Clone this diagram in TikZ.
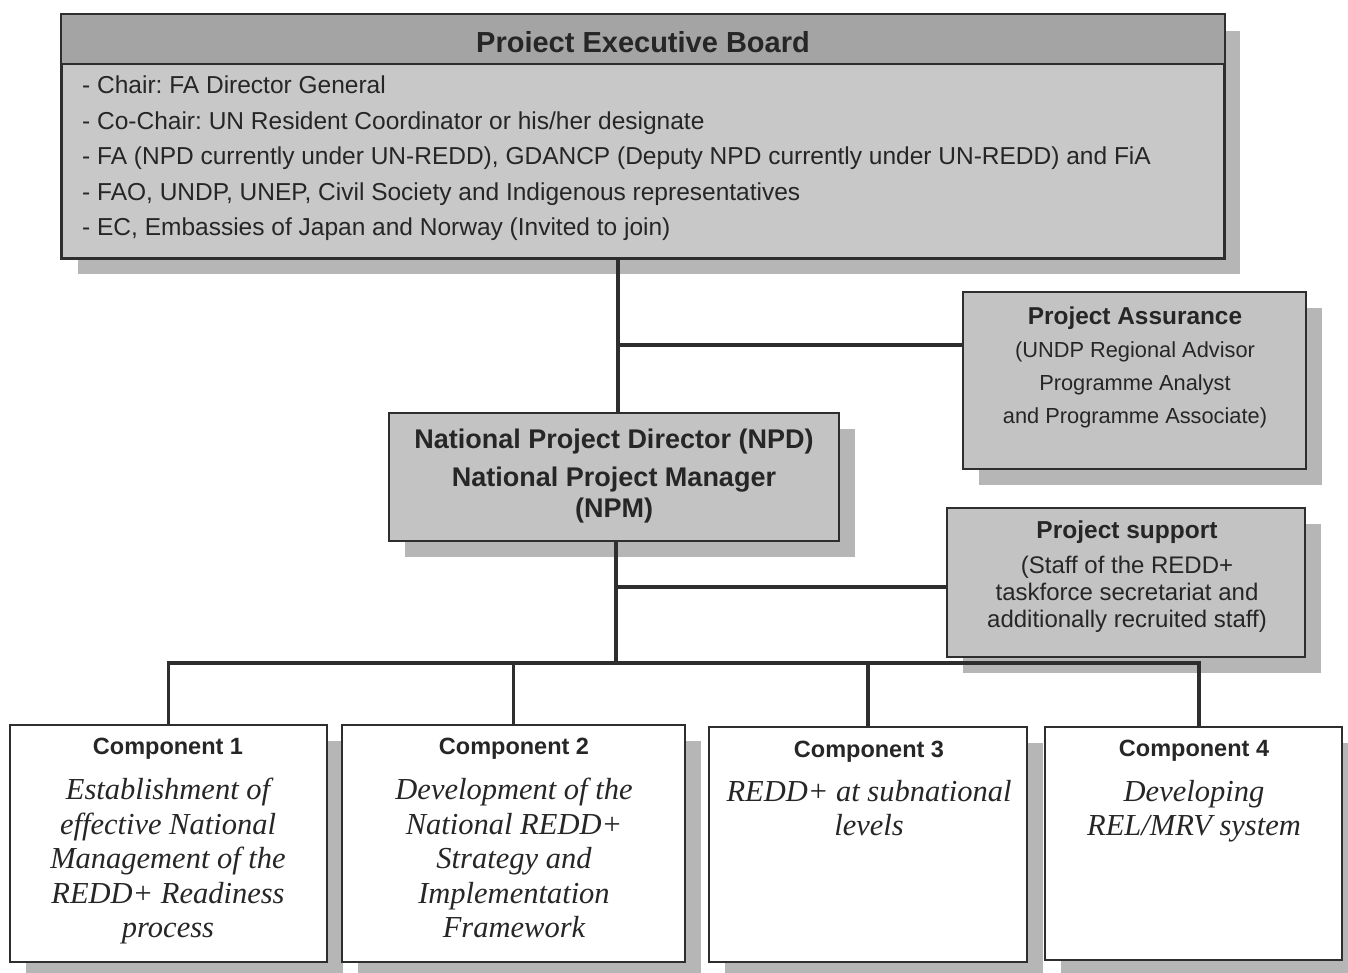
\documentclass[tikz,border=0pt]{standalone}
\usepackage{fontspec}
\setmainfont{Liberation Sans}
\newfontfamily\compserif{Liberation Serif}
\usetikzlibrary{shadows}
\frenchspacing
\definecolor{linecol}{HTML}{2E2E2E}
\definecolor{textcol}{HTML}{262626}
\definecolor{headergray}{HTML}{A4A4A4}
\definecolor{boardgray}{HTML}{C8C8C8}
\definecolor{boxgray}{HTML}{C3C3C3}
\definecolor{shadowgray}{HTML}{B6B6B6}
\tikzset{
  box/.style={draw=linecol, line width=1.8pt, inner sep=0pt,
    general shadow={fill=shadowgray, shadow xshift=16pt, shadow yshift=-16pt}},
  conn/.style={draw=linecol, line width=3.6pt},
  sanstext/.style={text=textcol, inner sep=0pt, align=center},
  comptitle/.style={text=textcol, inner sep=0pt, font=\bfseries\fontsize{23.5}{27}\selectfont},
  compbody/.style={text=textcol, inner sep=0pt, align=center, anchor=north,
    font=\compserif\itshape\fontsize{30.5}{34.5}\selectfont},
}
\begin{document}
\begin{tikzpicture}[x=1pt,y=-1pt]
\useasboundingbox (0,0) rectangle (1348,972);
\clip (0,0) rectangle (1348,972);
\fill[white] (0,0) rectangle (1348,972);

% Executive board
\node[box, fill=boardgray, minimum width=1162pt, minimum height=243pt] (board) at (643,136.5) {};
\fill[headergray] (board.north west) rectangle ([yshift=-50pt]board.north east);
\draw[linecol, line width=1.8pt] ([yshift=-50pt]board.north west) -- ([yshift=-50pt]board.north east);
\draw[linecol, line width=1.8pt] (board.north west) rectangle (board.south east);
\node[sanstext, font=\bfseries\fontsize{29}{32}\selectfont] (title) at (643,42) {Proiect Executive Board};
\node[sanstext, anchor=north west, align=left, font=\fontsize{24.5}{35.5}\selectfont] (members) at (82,76)
  {- Chair: FA Director General\\
   - Co-Chair: UN Resident Coordinator or his/her designate\\
   - FA (NPD currently under UN-REDD), GDANCP (Deputy NPD currently under UN-REDD) and FiA\\
   - FAO, UNDP, UNEP, Civil Society and Indigenous representatives\\
   - EC, Embassies of Japan and Norway (Invited to join)};

% Project assurance
\node[box, fill=boxgray, minimum width=343pt, minimum height=177pt] (assur) at (1134.5,380.5) {};
\node[sanstext, font=\fontsize{21.8}{33}\selectfont] (assurtext) at (1135,367)
  {\textbf{\fontsize{24.4}{33}\selectfont Project Assurance}\\
   (UNDP Regional Advisor\\ Programme Analyst\\ and Programme Associate)};

% NPD / NPM
\node[box, fill=boxgray, minimum width=450pt, minimum height=128pt] (npd) at (614,477) {};
\node[sanstext, font=\bfseries\fontsize{27}{35}\selectfont] (npdtext) at (614,476)
  {National Project Director (NPD)\\[3pt] National Project Manager\\[-4pt] (NPM)};

% Project support
\node[box, fill=boxgray, minimum width=358pt, minimum height=149pt] (supp) at (1126,582.5) {};
\node[sanstext, font=\fontsize{24}{27}\selectfont] (supptext) at (1127,577)
  {\textbf{\fontsize{24.5}{27}\selectfont Project support}\\[8pt]
   (Staff of the REDD+\\ taskforce secretariat and\\ additionally recruited staff)};

% Components
\node[box, fill=white, minimum width=317pt, minimum height=237pt] (c1) at (168.5,843.5) {};
\node[box, fill=white, minimum width=343pt, minimum height=237pt] (c2) at (513.5,843.5) {};
\node[box, fill=white, minimum width=318pt, minimum height=235pt] (c3) at (868,844.5) {};
\node[box, fill=white, minimum width=297pt, minimum height=233pt] (c4) at (1193.5,843.5) {};

\node[comptitle] (t1) at (168,749) {Component 1};
\node[comptitle] (t2) at (514,749) {Component 2};
\node[comptitle] (t3) at (869,752) {Component 3};
\node[comptitle] (t4) at (1194,751) {Component 4};

\node[compbody] (b1) at (168,778) {Establishment of\\ effective National\\ Management of the\\ REDD+ Readiness\\ process};
\node[compbody] (b2) at (514,778) {Development of the\\ National REDD+\\ Strategy and\\ Implementation\\ Framework};
\node[compbody] (b3) at (869,780) {REDD+ at subnational\\ levels};
\node[compbody] (b4) at (1194,780) {Developing\\ REL/MRV system};

% Connectors
\coordinate (bus) at (616,663);
\coordinate (c4top) at ([xshift=5.5pt]c4.north);
\draw[conn] (board.south -| 618,0) -- (618,413);
\draw[conn] (618,345) -- (assur.west |- 0,345);
\draw[conn] (npd.south -| 616,0) -- (bus);
\draw[conn] (616,587) -- (supp.west |- 0,587);
\draw[conn, line cap=rect] (c1.north |- bus) -- (c4top |- bus);
\draw[conn] (c1.north |- bus) -- (c1.north);
\draw[conn] (c2.north |- bus) -- (c2.north);
\draw[conn] (c3.north |- bus) -- (c3.north);
\draw[conn] (c4top |- bus) -- (c4top);
\end{tikzpicture}
\end{document}
